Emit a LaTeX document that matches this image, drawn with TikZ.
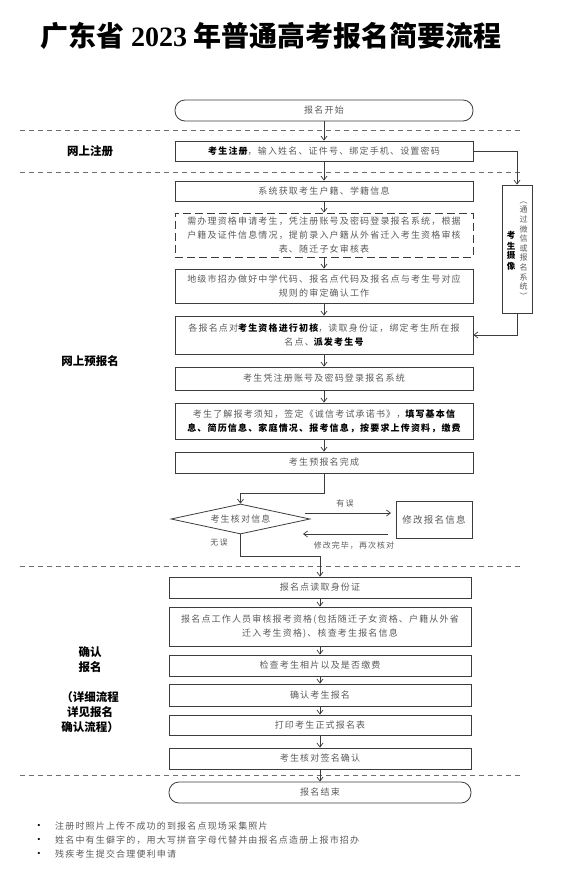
\documentclass[tikz,border=0pt]{standalone}
\usepackage{fontspec}
\usepackage{xcolor}
\usetikzlibrary{arrows.meta, shapes.geometric, calc, positioning}
\setmainfont{Liberation Serif}
\newfontfamily\cjk[LetterSpace=13]{Noto Sans CJK SC}
\newfontfamily\cjktight{Noto Sans CJK SC}
\definecolor{TextGrey}{HTML}{5A5A5A}
\definecolor{LineGrey}{HTML}{3C3C3C}
\definecolor{SepGrey} {HTML}{6E6E6E}
\newcommand{\boldpart}[1]{{\color{black}\bfseries #1}}
\tikzset{
  flow arrow/.style={-{Straight Barb[length=4pt,width=6pt]}, line width=0.7pt, LineGrey},
  sep line/.style={dash pattern=on 5pt off 4pt, line width=0.8pt, SepGrey},
}
\begin{document}
\begin{tikzpicture}[x=1pt, y=-1pt, font=\cjk\fontsize{9}{14}\selectfont, text=TextGrey,
    stepbox/.style={draw=LineGrey, line width=0.8pt, align=center,
                    inner sep=2pt, minimum width=298pt},
    lowbox/.style={stepbox, minimum width=302pt},
    endbox/.style={stepbox, rounded corners=10pt},
    dashbox/.style={stepbox, dash pattern=on 8pt off 4pt},
    lane/.style={font=\cjktight\bfseries\fontsize{11.5}{15}\selectfont,
                 text=black, align=center}]
  \useasboundingbox (0,0) rectangle (582,873);
  % Title
  \node[text=black, font=\cjktight\bfseries\fontsize{28}{32}\selectfont] (title) at (271,36)
    {广东省 {\rmfamily\bfseries 2023} 年普通高考报名简要流程};
  % Separators
  \foreach \y in {130,172,566,775}
    \draw[sep line] (20,\y) -- (520,\y);
  % Nodes (online registration and pre-registration)
  \node[endbox,  minimum height=21pt] (start) at (324,110.5) {报名开始};
  \node[stepbox, minimum height=20pt] (reg)   at (324,151)
    {\boldpart{考生注册}，输入姓名、证件号、绑定手机、设置密码};
  \node[stepbox, minimum height=20pt] (sys)   at (324,191) {系统获取考生户籍、学籍信息};
  \node[dashbox, minimum height=44pt] (apply) at (324,235)
    {需办理资格申请考生，凭注册账号及密码登录报名系统，根据\\
     户籍及证件信息情况，提前录入户籍从外省迁入考生资格审核\\
     表、随迁子女审核表};
  \node[stepbox, minimum height=34pt] (city)  at (324,286)
    {地级市招办做好中学代码、报名点代码及报名点与考生号对应\\规则的审定确认工作};
  \node[stepbox, minimum height=38pt] (site)  at (324,335)
    {各报名点对\boldpart{考生资格进行初核}，读取身份证，绑定考生所在报\\
     名点、\boldpart{派发考生号}};
  \node[stepbox, minimum height=23pt] (login) at (324,378.5) {考生凭注册账号及密码登录报名系统};
  \node[stepbox, minimum height=36pt] (fill)  at (324,421)
    {考生了解报考须知，签定《诚信考试承诺书》，\boldpart{填写基本信}\\
     \boldpart{息、简历信息、家庭情况、报考信息，按要求上传资料，缴费}};
  \node[stepbox, minimum height=21pt] (done)  at (324,462.5) {考生预报名完成};
  \node[draw=LineGrey, line width=0.8pt, minimum width=30pt, minimum height=128pt,
        inner sep=0pt] (camera) at (517,249) {};
  \node[font=\cjktight\bfseries\fontsize{8.5}{11}\selectfont, text=black, align=center]
    (cameraA) at (511,251) {考\\生\\[-2pt]摄\\像};
  \node[font=\cjktight\fontsize{8}{9.6}\selectfont, align=center]
    (cameraB) at (523.5,250.5) {︵\\通\\过\\微\\信\\或\\报\\名\\系\\统\\︶};
  \node[draw=LineGrey, line width=0.8pt, shape=diamond, aspect=4.6, inner sep=1pt,
        minimum width=139pt, minimum height=30pt] (check) at (240.5,519) {考生核对信息};
  \node[draw=LineGrey, line width=0.8pt, minimum width=76pt, minimum height=37pt,
        inner sep=1pt, font=\cjk\fontsize{9.5}{14}\selectfont] (fix) at (434,519.5) {修改报名信息};
  \coordinate (errA)  at (305,513);
  \coordinate (errB)  at (391,513);
  \coordinate (backA) at (388,534);
  \coordinate (backB) at (303,534);
  % Nodes (confirmation)
  \node[lowbox, minimum height=21pt] (read)    at (320,587.5) {报名点读取身份证};
  \node[lowbox, minimum height=39pt] (audit)   at (320,626.5)
    {报名点工作人员审核报考资格(包括随迁子女资格、户籍从外省\\迁入考生资格)、核查考生报名信息};
  \node[lowbox, minimum height=21pt] (photo)   at (320,665.5) {检查考生相片以及是否缴费};
  \node[lowbox, minimum height=22pt] (confirm) at (320,695) {确认考生报名};
  \node[lowbox, minimum height=20pt] (print)   at (320,725) {打印考生正式报名表};
  \node[lowbox, minimum height=21pt] (sign)    at (320,758.5) {考生核对签名确认};
  \node[lowbox, rounded corners=10pt, minimum height=21pt] (end) at (320,792.5) {报名结束};
  % Arrows
  \draw[flow arrow] (start) -- (reg);
  \draw[flow arrow] (reg)   -- (sys);
  \draw[flow arrow] (sys)   -- (apply);
  \draw[flow arrow] (apply) -- (city);
  \draw[flow arrow] (city)  -- (site);
  \draw[flow arrow] (site)  -- (login);
  \draw[flow arrow] (login) -- (fill);
  \draw[flow arrow] (fill)  -- (done);
  \draw[flow arrow] (reg.east) -| (camera.north);
  \draw[flow arrow] (camera.south) |- (site.east);
  \draw[flow arrow] (done.south) -- ++(0,20) -| (check.north);
  \draw[flow arrow] (errA)  -- (errB);
  \draw[flow arrow] (backA) -- (backB);
  \draw[flow arrow] (check.south) -- ++(0,22) -| (read.north);
  \draw[flow arrow] (read)    -- (audit);
  \draw[flow arrow] (audit)   -- (photo);
  \draw[flow arrow] (photo)   -- (confirm);
  \draw[flow arrow] (confirm) -- (print);
  \draw[flow arrow] (print)   -- (sign);
  \draw[flow arrow] (sign)    -- (end);
  % Labels
  \node[font=\cjk\fontsize{8}{10}\selectfont] (wrong) at (345,503) {有误};
  \node[font=\cjk\fontsize{8}{10}\selectfont] (again) at (354,546) {修改完毕，再次核对};
  \node[font=\cjk\fontsize{8}{10}\selectfont] (right) at (219,543) {无误};
  \node[lane] (laneReg)  at (90,151) {网上注册};
  \node[lane] (lanePre)  at (90,361) {网上预报名};
  \node[lane] (laneConf) at (90,659.5) {确认\\报名};
  \node[lane] (laneNote) at (90,712) {（详细流程\\详见报名\\确认流程）};
  % Notes
  \node[text=black, font=\rmfamily\fontsize{9}{10}\selectfont] (dotA) at (39,826) {\textbullet};
  \node[text=black, font=\rmfamily\fontsize{9}{10}\selectfont] (dotB) at (39,840) {\textbullet};
  \node[text=black, font=\rmfamily\fontsize{9}{10}\selectfont] (dotC) at (39,854) {\textbullet};
  \node[anchor=west, inner sep=0pt] (noteA) at (55,826) {注册时照片上传不成功的到报名点现场采集照片};
  \node[anchor=west, inner sep=0pt] (noteB) at (55,840) {姓名中有生僻字的，用大写拼音字母代替并由报名点造册上报市招办};
  \node[anchor=west, inner sep=0pt] (noteC) at (55,854) {残疾考生提交合理便利申请};
\end{tikzpicture}
\end{document}
